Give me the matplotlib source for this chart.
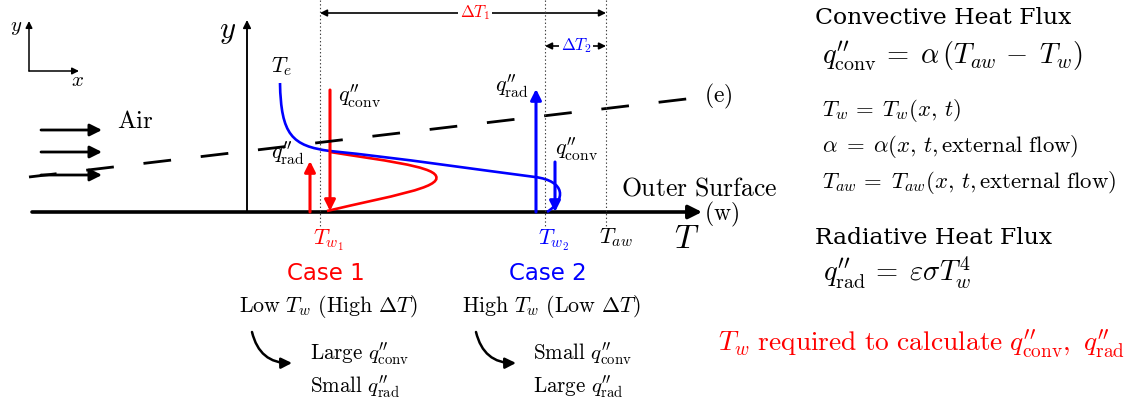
import matplotlib.pyplot as plt
import numpy as np
from matplotlib.patches import FancyArrowPatch, PathPatch
from matplotlib.path import Path

plt.rcParams['mathtext.fontset'] = 'cm'
plt.rcParams['lines.scale_dashes'] = False

W, H = 1138, 407

# wall / axis geometry (drawing units = pixels, y downwards)
wall_y = 212
wall_x = [32, 702]
yaxis_x = 247
yaxis_top = 20

# temperature markers on the wall
Tw1_x = 320
Tw2_x = 545
Taw_x = 606

# edge of boundary layer (e)
edge_line = [(29, 177), (703, 97)]

# incoming air arrows
air_rows = [130, 152, 175]
air_x = [41, 102]

# temperature profiles as cubic Bezier control points
blue_ctrl = [(280, 83), (281, 135), (292, 146), (330, 151),
             (400, 158), (480, 170), (535, 177),
             (566, 181), (566, 200), (547, 212)]
red_ctrl = [(327, 211), (390, 196), (442, 188), (436, 176),
            (432, 166), (380, 160), (330, 152)]

# heat flux arrows: (x, y_start, y_end)
red_qrad = (310, 212, 161)
red_qconv = (330, 90, 211)
blue_qrad = (536, 212, 89)
blue_qconv = (555, 162, 212)

RED = '#ff0000'
BLUE = '#0000ff'

QC = r"q^{\prime\prime}_{\mathrm{conv}}"
QR = r"q^{\prime\prime}_{\mathrm{rad}}"
EQ_SUB = r"\,=\;"
EQ = r"\;=\;"


def bezier(ctrl):
    codes = [Path.MOVETO] + [Path.CURVE4] * (len(ctrl) - 1)
    return Path(ctrl, codes)


def arrow(ax, p0, p1, color='k', lw=2.0, style='-|>', ms=16, **kw):
    a = FancyArrowPatch(p0, p1, arrowstyle=style, mutation_scale=ms,
                        color=color, lw=lw, shrinkA=0, shrinkB=0, **kw)
    ax.add_patch(a)
    return a


fig = plt.figure(figsize=(W / 100, H / 100), dpi=100)
ax = fig.add_axes([0, 0, 1, 1])
ax.set_xlim(0, W)
ax.set_ylim(H, 0)
ax.axis('off')

# small coordinate triad
arrow(ax, (29, 71), (29, 21), lw=1.1, ms=10)
arrow(ax, (29, 71), (79, 71), lw=1.1, ms=10)
ax.text(16, 27, r'$y$', fontsize=15, ha='center', va='center')
ax.text(78, 80, r'$x$', fontsize=15, ha='center', va='center')

# air flow
for ry in air_rows:
    arrow(ax, (air_x[0], ry), (air_x[1], ry), lw=2.0, ms=18)
ax.text(135, 121, r'$\mathrm{Air}$', fontsize=18, ha='center', va='center')

# dashed boundary layer edge
(ex0, ey0), (ex1, ey1) = edge_line
ax.plot([ex0, ex1], [ey0, ey1], color='k', lw=2.0, dashes=(20, 21.5),
        solid_capstyle='butt', dash_capstyle='butt')
ax.text(704, ey1 - 1, r'$\mathrm{(e)}$', fontsize=17, ha='left', va='center')

# dotted reference lines
for vx in (Tw1_x, Tw2_x, Taw_x):
    ax.plot([vx, vx], [0, 228], color='0.25', lw=0.8, ls=':')

# temperature difference brackets
arrow(ax, (Tw1_x, 13), (Taw_x, 13), lw=1.2, style='<|-|>', ms=10)
ax.text(475, 13, r'$\Delta T_1$', fontsize=12, color=RED,
        ha='center', va='center',
        bbox=dict(facecolor='white', edgecolor='none', pad=1))
arrow(ax, (Tw2_x, 46), (Taw_x, 46), lw=1.2, style='<|-|>', ms=10)
ax.text(576, 46, r'$\Delta T_2$', fontsize=12, color=BLUE,
        ha='center', va='center',
        bbox=dict(facecolor='white', edgecolor='none', pad=1))

# wall and y axis
arrow(ax, (wall_x[0], wall_y), (wall_x[1], wall_y), lw=2.6, ms=20)
ax.plot([yaxis_x, yaxis_x], [wall_y, yaxis_top + 8], color='k', lw=1.1)
arrow(ax, (yaxis_x, wall_y), (yaxis_x, yaxis_top), lw=1.1, ms=12)
ax.text(228, 32, r'$y$', fontsize=22, ha='center', va='center')
ax.text(704, 214, r'$\mathrm{(w)}$', fontsize=17, ha='left', va='center')
ax.text(621, 188, r'$\mathrm{Outer\ Surface}$', fontsize=18.5,
        ha='left', va='center')

# temperature profiles
ax.add_patch(PathPatch(bezier(red_ctrl), fc='none', ec=RED, lw=1.9))
ax.add_patch(PathPatch(bezier(blue_ctrl), fc='none', ec=BLUE, lw=1.9))
ax.text(282, 67, r'$T_e$', fontsize=16, ha='center', va='center')

# heat flux arrows
for (fx, fy0, fy1), col in ((red_qrad, RED), (red_qconv, RED),
                            (blue_qrad, BLUE), (blue_qconv, BLUE)):
    arrow(ax, (fx, fy0), (fx, fy1), color=col, lw=2.2, ms=16)

ax.text(271, 153, '$' + QR + '$', fontsize=16, ha='left', va='center')
ax.text(338, 96, '$' + QC + '$', fontsize=16, ha='left', va='center')
ax.text(495, 86, '$' + QR + '$', fontsize=16, ha='left', va='center')
ax.text(555, 149, '$' + QC + '$', fontsize=16, ha='left', va='center')

# temperature axis labels
ax.text(Tw1_x + 8, 240, r'$T_{w_1}$', fontsize=16, color=RED,
        ha='center', va='center')
ax.text(Tw2_x + 8, 240, r'$T_{w_2}$', fontsize=16, color=BLUE,
        ha='center', va='center')
ax.text(Taw_x + 10, 238, r'$T_{aw}$', fontsize=16, ha='center', va='center')
ax.text(687, 238, r'$T$', fontsize=24, ha='center', va='center')

# case descriptions
ax.text(326, 274, 'Case 1', fontsize=16.5, color=RED, ha='center',
        va='center', family='DejaVu Sans')
ax.text(548, 274, 'Case 2', fontsize=16.5, color=BLUE, ha='center',
        va='center', family='DejaVu Sans')
ax.text(328, 306, r'$\mathrm{Low}\ T_w\ \mathrm{(High}\ \Delta T\mathrm{)}$',
        fontsize=15.8, ha='center', va='center')
ax.text(551, 306, r'$\mathrm{High}\ T_w\ \mathrm{(Low}\ \Delta T\mathrm{)}$',
        fontsize=15.8, ha='center', va='center')

for cx in (252, 476):
    arrow(ax, (cx, 332), (cx + 40, 363), lw=1.8, ms=16,
          connectionstyle='arc3,rad=0.4')

ax.text(310, 354, r"$\mathrm{Large}\ " + QC + "$", fontsize=15.2,
        ha='left', va='center')
ax.text(310, 387, r"$\mathrm{Small}\ " + QR + "$", fontsize=15.2,
        ha='left', va='center')
ax.text(533, 354, r"$\mathrm{Small}\ " + QC + "$", fontsize=15.2,
        ha='left', va='center')
ax.text(533, 387, r"$\mathrm{Large}\ " + QR + "$", fontsize=15.2,
        ha='left', va='center')

# flux definitions
ax.text(815, 18, 'Convective Heat Flux', fontsize=16.9, family='DejaVu Serif',
        ha='left', va='center')
ax.text(822, 56, '$' + QC + EQ_SUB + r"\alpha\,(T_{aw}\,-\;T_w)$",
        fontsize=20.5, ha='left', va='center')
ax.text(822, 110, r'$T_w' + EQ_SUB + r'T_w(x,\,t)$', fontsize=16.4,
        ha='left', va='center')
ax.text(822, 146, r'$\alpha' + EQ + r'\alpha(x,\,t,\mathrm{external\ flow})$',
        fontsize=16.4, ha='left', va='center')
ax.text(822, 182,
        r'$T_{aw}' + EQ_SUB + r'T_{aw}(x,\,t,\mathrm{external\ flow})$',
        fontsize=16.4, ha='left', va='center')
ax.text(815, 238, 'Radiative Heat Flux', fontsize=16.9, family='DejaVu Serif',
        ha='left', va='center')
ax.text(823, 273, '$' + QR + EQ_SUB + r"\varepsilon\sigma T_w^4$",
        fontsize=20.5, ha='left', va='center')
ax.text(718, 344,
        r"$T_w\ \mathrm{required\ to\ calculate}\ " + QC + r",\ " + QR + "$",
        fontsize=19.8, color=RED, ha='left', va='center')

fig.savefig('out.png', dpi=100)
